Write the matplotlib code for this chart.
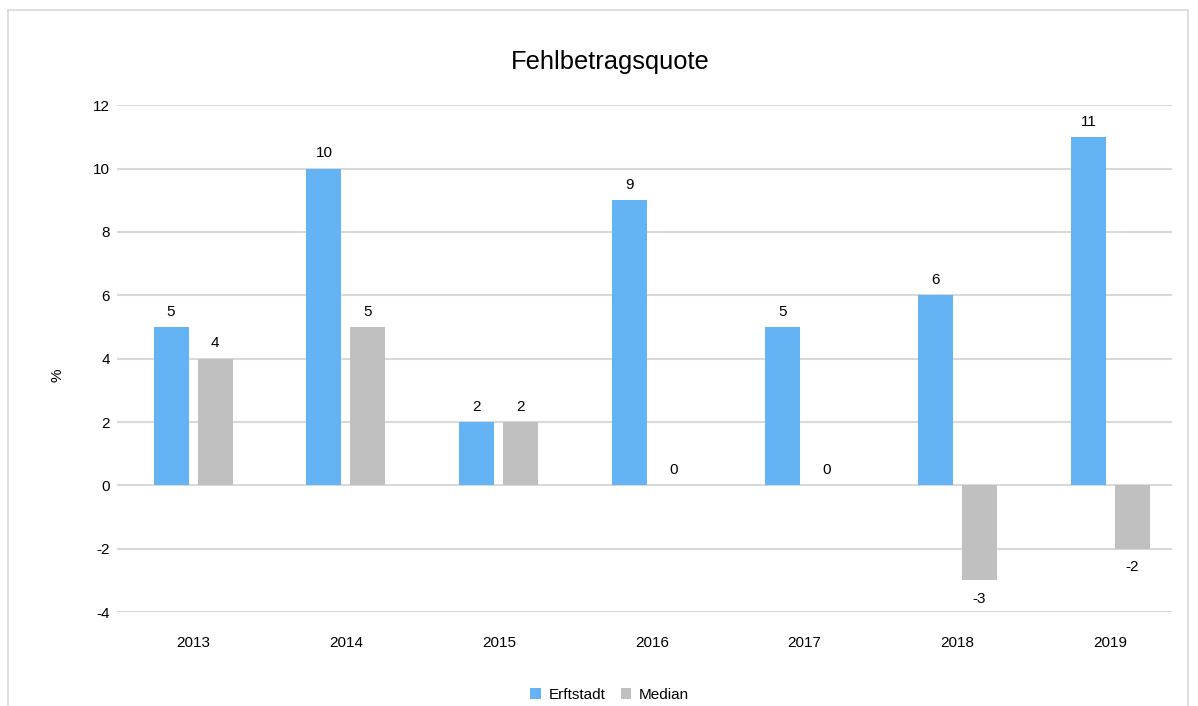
import matplotlib.pyplot as plt
from matplotlib.lines import Line2D
import numpy as np

plt.rcParams['font.family'] = ['Liberation Sans', 'DejaVu Sans']
plt.rcParams['axes.unicode_minus'] = False

years = ['2013', '2014', '2015', '2016', '2017', '2018', '2019']
erftstadt = [5, 10, 2, 9, 5, 6, 11]
median = [4, 5, 2, 0, 0, -3, -2]

fig = plt.figure(figsize=(11.98, 7.06), dpi=100)
ax = fig.add_axes([0.0977, 0.133, 0.8803, 0.718])

x = np.arange(len(years))
off = 0.144
w = 0.229
b1 = ax.bar(x - off, erftstadt, w, color='#63b3f5', label='Erftstadt', zorder=3)
b2 = ax.bar(x + off, median, w, color='#c0c0c0', label='Median', zorder=3)

for bars, vals in ((b1, erftstadt), (b2, median)):
    for rect, v in zip(bars, vals):
        cx = rect.get_x() + rect.get_width() / 2
        if v >= 0:
            ax.annotate(str(v), (cx, v), xytext=(0, 6), textcoords='offset points',
                        ha='center', va='bottom', fontsize=11)
        else:
            ax.annotate(str(v), (cx, v), xytext=(0, -8), textcoords='offset points',
                        ha='center', va='top', fontsize=11)

ax.set_xlim(-0.497, 6.40)
ax.set_ylim(-4, 12)
ax.set_yticks(range(-4, 13, 2))
ax.set_xticks(x)
ax.set_xticklabels(years)
ax.tick_params(length=0, labelsize=11)
ax.tick_params(axis='x', pad=17)
ax.tick_params(axis='y', pad=5)
ax.yaxis.grid(True, color='#d9d9d9', linewidth=1.5, zorder=0)
for s in ax.spines.values():
    s.set_visible(False)
ax.set_ylabel('%', fontsize=11)
ax.yaxis.set_label_coords(-0.050, 0.467)

fig.text(0.509, 0.912, 'Fehlbetragsquote', ha='center', va='center', fontsize=18.4)

fig.legend(handles=[b1, b2], loc='center', bbox_to_anchor=(0.509, 0.016), ncol=2,
           frameon=False, fontsize=11, handlelength=0.7, handleheight=0.7,
           handletextpad=0.5, columnspacing=1.0)

# outer frame
fc = '#d9d9d9'
fig.add_artist(Line2D([8/1198, 1188/1198], [1 - 10/706, 1 - 10/706], color=fc, lw=1.2))
fig.add_artist(Line2D([8/1198, 8/1198], [1 - 10/706, 0], color=fc, lw=1.2))
fig.add_artist(Line2D([1188/1198, 1188/1198], [1 - 10/706, 0], color=fc, lw=1.2))

fig.savefig('out.png', dpi=100)
